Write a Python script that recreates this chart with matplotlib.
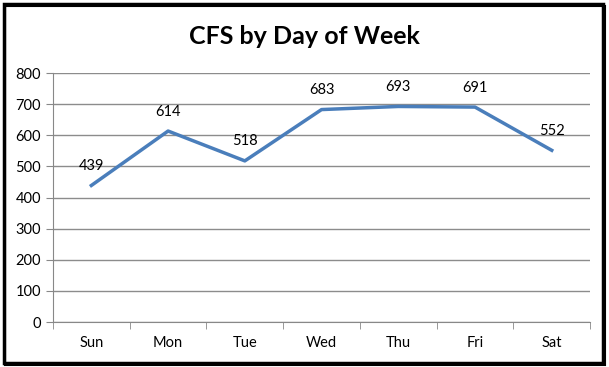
import matplotlib.pyplot as plt
from matplotlib.patches import Rectangle
import numpy as np

days = ["Sun", "Mon", "Tue", "Wed", "Thu", "Fri", "Sat"]
cfs = [439, 614, 518, 683, 693, 691, 552]

plt.rcParams['font.family'] = ['Lato', 'DejaVu Sans']

fig = plt.figure(figsize=(6.09, 3.67), dpi=100)
ax = fig.add_axes([0.087, 0.1226, 0.882, 0.678])

x = np.arange(len(days))
ax.plot(x, cfs, color='#4A7EBB', linewidth=2.5)
for xi, v in zip(x, cfs):
    ax.annotate(str(v), (xi, v), xytext=(0, 9), textcoords='offset points',
                ha='center', va='bottom', fontsize=10.5)

ax.set_xlim(-0.5, 6.5)
ax.set_ylim(0, 800)
ax.set_yticks(range(0, 801, 100))
ax.set_xticks(x)
ax.set_xticklabels(days)
ax.set_xticks(np.arange(-0.5, 7, 1), minor=True)
ax.tick_params(axis='x', which='major', length=0, pad=10, labelsize=10.5)
ax.tick_params(axis='x', which='minor', length=5, color='#888888')
ax.tick_params(axis='y', length=5, color='#888888', labelsize=10.5)
ax.yaxis.grid(True, color='#8c8c8c', linewidth=1)
ax.set_axisbelow(True)
for s in ['top', 'right']:
    ax.spines[s].set_visible(False)
for s in ['left', 'bottom']:
    ax.spines[s].set_color('#888888')

fig.text(0.5, 0.9, "CFS by Day of Week", ha='center', va='center',
         fontsize=18, fontweight='bold')

# outer border with shadow
fig.patches.append(Rectangle((0.006, 0.012), 0.984, 0.978, transform=fig.transFigure,
                             fill=False, edgecolor='black', linewidth=2.5,
                             joinstyle='miter'))
fig.patches.append(Rectangle((0.009, 0.006), 0.984, 0.978, transform=fig.transFigure,
                             fill=False, edgecolor='black', linewidth=1.5,
                             joinstyle='miter', zorder=-1))

fig.savefig("out.png", dpi=100)
